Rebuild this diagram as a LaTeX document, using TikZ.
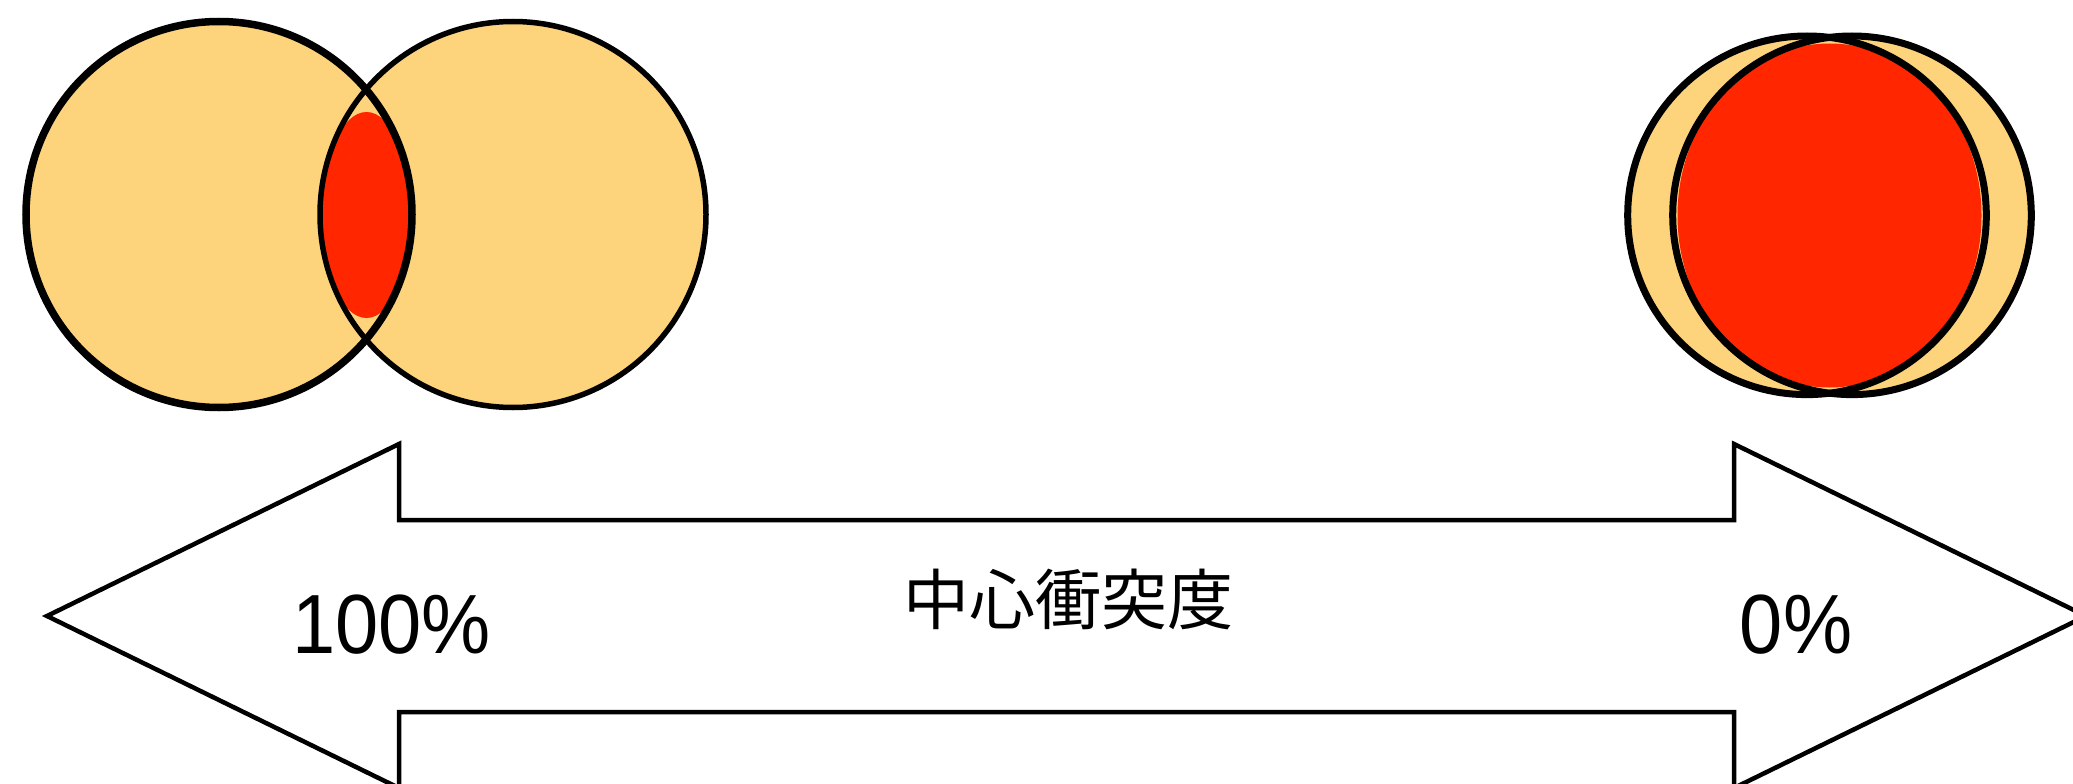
\documentclass[tikz,border=0pt]{standalone}
\usepackage{fontspec}
\setmainfont{Liberation Sans}
\newfontfamily\pctfont[FakeStretch=0.925]{Liberation Sans}
\newfontfamily\cjkfont{Noto Sans CJK JP}
\definecolor{venny}{RGB}{253,211,123}
\definecolor{vennred}{RGB}{255,38,0}
\tikzset{
  ring/.style={draw=black},
  bigarrow/.style={draw=black, fill=white, line width=4.5pt, line join=miter},
  pct/.style={inner sep=0pt, anchor=base, font=\pctfont\fontsize{84}{84}\selectfont},
  jlabel/.style={inner sep=0pt, anchor=base, font=\cjkfont\fontsize{66}{66}\selectfont}
}
\begin{document}
\begin{tikzpicture}[x=1pt,y=-1pt]
\useasboundingbox (0,0) rectangle (2073,784);
% ---- left pair (small overlap)
\fill[venny] (219,214.5) circle (193);
\fill[venny] (513,214.5) circle (193);
\begin{scope}
  \clip (219,214.5) circle (193);
  \clip (513,214.5) circle (193);
  \fill[vennred] (366.5,215) ellipse [x radius=45, y radius=103];
\end{scope}
\draw[ring, line width=7.5pt] (219,214.5) circle (193);
\draw[ring, line width=5.5pt] (513,214.5) circle (193);
% ---- right pair (large overlap)
\fill[venny] (1807,215.3) circle (179.3);
\fill[venny] (1852,215.3) circle (179.3);
\begin{scope}
  \clip (1807,215.3) circle (179.3);
  \clip (1852,215.3) circle (179.3);
  \fill[vennred] (1829.5,215.5) ellipse [x radius=152, y radius=172];
\end{scope}
\draw[ring, line width=7pt] (1807,215.3) circle (179.3);
\draw[ring, line width=7pt] (1852,215.3) circle (179.3);
% ---- double arrow
\draw[bigarrow] (47,616) -- (399,444) -- (399,520) -- (1734,520) -- (1734,444)
  -- (2086,616) -- (1734,788) -- (1734,712) -- (399,712) -- (399,788) -- cycle;
% ---- labels
\node[pct] (hundred) at (391.5,653) {100\%};
\node[pct] (zero) at (1796,653) {0\%};
\node[jlabel] (center) at (1068.5,624) {中心衝突度};
\end{tikzpicture}
\end{document}
